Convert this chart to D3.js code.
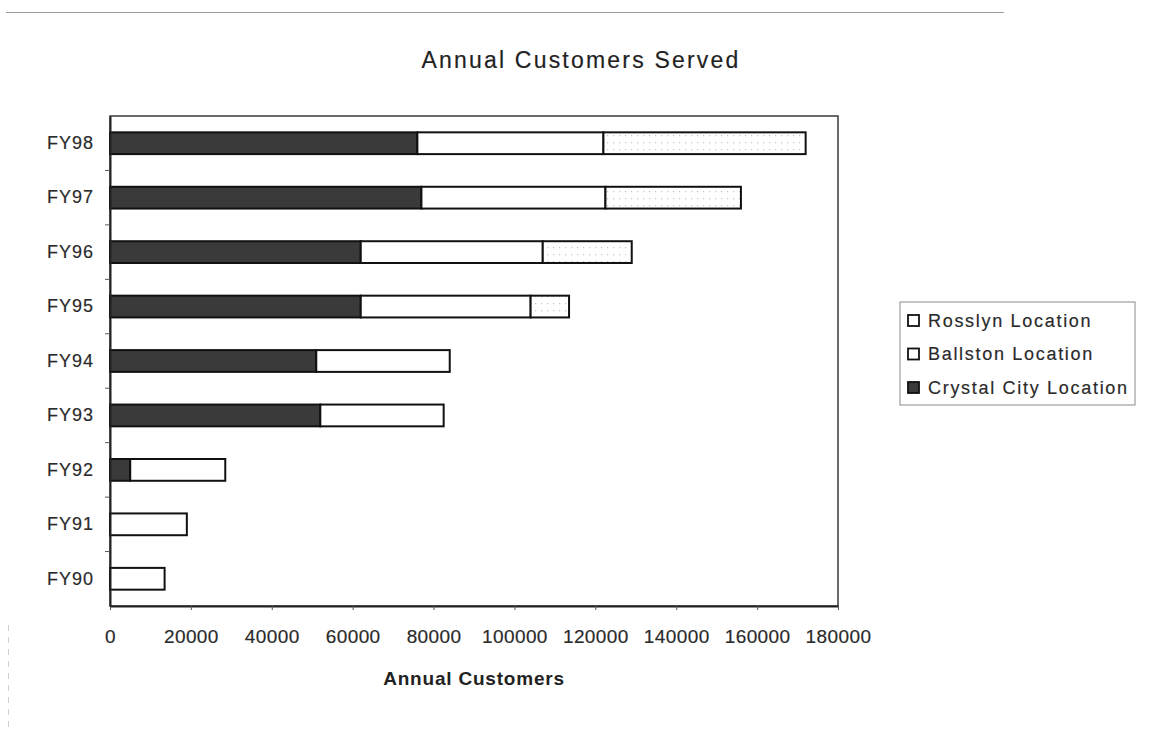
<!DOCTYPE html>
<html>
<head>
<meta charset="utf-8">
<script src="https://cdn.jsdelivr.net/npm/d3@7/dist/d3.min.js"></script>
<style>
  html, body { margin: 0; padding: 0; background: #ffffff; }
  svg { display: block; font-family: "Liberation Sans", Arial, sans-serif; }
  svg text { stroke: #2a2a2a; stroke-width: 0.18px; }
  svg text.bold { stroke: none; }
</style>
</head>
<body>
<svg id="chart" width="1149" height="729"></svg>
<script>
// Fiscal years, top to bottom
const years = ["FY98", "FY97", "FY96", "FY95", "FY94", "FY93", "FY92", "FY91", "FY90"];
// Customers per location and year
const crystalCity = [76000, 77000, 62000, 62000, 51000, 52000, 5000, 0, 0];
const ballston    = [46000, 45500, 45000, 42000, 33000, 30500, 23500, 19000, 13500];
const rosslyn     = [50000, 33500, 22000, 9500, 0, 0, 0, 0, 0];
const xTicks = [0, 20000, 40000, 60000, 80000, 100000, 120000, 140000, 160000, 180000];

const seriesNames = ["Crystal City Location", "Ballston Location", "Rosslyn Location"];
const legendOrder = ["Rosslyn Location", "Ballston Location", "Crystal City Location"];

const svg = d3.select("#chart");
const plotLeft = 110, plotRight = 838, plotTop = 116, plotBottom = 606;

// faint scan edge lines
svg.append("line").attr("x1", 6).attr("x2", 1004).attr("y1", 12.5).attr("y2", 12.5)
  .attr("stroke", "#9a9a9a").attr("stroke-width", 1.2);
svg.append("line").attr("x1", 8.5).attr("x2", 8.5).attr("y1", 625).attr("y2", 729)
  .attr("stroke", "#d0d0d0").attr("stroke-width", 1).attr("stroke-dasharray", "6,6");

// dotted texture for the Rosslyn segments
const defs = svg.append("defs");
const pat = defs.append("pattern").attr("id", "dots").attr("patternUnits", "userSpaceOnUse")
  .attr("width", 6).attr("height", 7);
pat.append("rect").attr("width", 6).attr("height", 7).attr("fill", "#ffffff");
pat.append("rect").attr("x", 1).attr("y", 2).attr("width", 1.2).attr("height", 1.2).attr("fill", "#c4c4c4");

const x = d3.scaleLinear().domain([0, 180000]).range([plotLeft, plotRight]);
const y = d3.scaleBand().domain(years).range([plotTop, plotBottom]).paddingInner(0.6).paddingOuter(0.3);

const table = years.map((yr, i) => ({
  year: yr,
  "Crystal City Location": crystalCity[i],
  "Ballston Location": ballston[i],
  "Rosslyn Location": rosslyn[i]
}));
const stacked = d3.stack().keys(seriesNames)(table);

const fills = {
  "Crystal City Location": "#3a3a3a",
  "Ballston Location": "#ffffff",
  "Rosslyn Location": "url(#dots)"
};

// plot frame
svg.append("rect").attr("x", plotLeft).attr("y", plotTop)
  .attr("width", plotRight - plotLeft).attr("height", plotBottom - plotTop)
  .attr("fill", "none").attr("stroke", "#3a3a3a").attr("stroke-width", 1.5);

// bars
stacked.forEach(layer => {
  svg.append("g").selectAll("rect").data(layer.filter(d => d[1] > d[0])).join("rect")
    .attr("x", d => x(d[0]))
    .attr("y", d => y(d.data.year))
    .attr("width", d => x(d[1]) - x(d[0]))
    .attr("height", y.bandwidth())
    .attr("fill", fills[layer.key])
    .attr("stroke", "#111")
    .attr("stroke-width", 2);
});

// x axis
const xAxis = d3.axisBottom(x).tickValues(xTicks).tickFormat(d3.format("d")).tickSize(4).tickSizeOuter(0).tickPadding(20);
const gx = svg.append("g").attr("transform", `translate(0,${plotBottom})`).call(xAxis);
gx.select(".domain").attr("stroke", "#222").attr("stroke-width", 2);
gx.selectAll(".tick line").attr("stroke", "#555");
gx.selectAll(".tick text").attr("font-size", 19).attr("fill", "#2a2a2a")
  .attr("font-family", "Liberation Sans, Arial, sans-serif").style("letter-spacing", "0.4px");

// y axis
const yAxis = d3.axisLeft(y).tickSize(0).tickPadding(16);
const gy = svg.append("g").attr("transform", `translate(${plotLeft},0)`).call(yAxis);
gy.select(".domain").attr("stroke", "#222").attr("stroke-width", 2);
gy.selectAll(".tick text").attr("font-size", 18).attr("fill", "#2a2a2a")
  .attr("font-family", "Liberation Sans, Arial, sans-serif").style("letter-spacing", "1px");
// separator ticks between categories
svg.append("g").selectAll("line").data(years.slice(1)).join("line")
  .attr("x1", plotLeft - 5).attr("x2", plotLeft)
  .attr("y1", d => y(d) - y.step() * y.paddingInner() / 2)
  .attr("y2", d => y(d) - y.step() * y.paddingInner() / 2)
  .attr("stroke", "#555").attr("stroke-width", 1);

// titles
svg.append("text").attr("x", 581).attr("y", 68).attr("text-anchor", "middle")
  .attr("font-size", 23).attr("fill", "#222").style("letter-spacing", "2.2px")
  .text("Annual Customers Served");
svg.append("text").attr("class", "bold").attr("x", 474).attr("y", 685).attr("text-anchor", "middle")
  .attr("font-size", 19).attr("font-weight", "bold").attr("fill", "#222").style("letter-spacing", "0.8px")
  .text("Annual Customers");

// legend
const lg = svg.append("g");
lg.append("rect").attr("x", 900).attr("y", 302).attr("width", 235).attr("height", 103)
  .attr("fill", "#fff").attr("stroke", "#8a8a8a").attr("stroke-width", 1);
legendOrder.forEach((name, i) => {
  const cy = 320 + i * 33.5;
  lg.append("rect").attr("x", 908).attr("y", cy - 5).attr("width", 11).attr("height", 11)
    .attr("fill", name === "Crystal City Location" ? "#3a3a3a" : "#fff")
    .attr("stroke", "#111").attr("stroke-width", 1.8);
  lg.append("text").attr("x", 928).attr("y", cy + 6.5).attr("font-size", 18).attr("fill", "#2a2a2a")
    .style("letter-spacing", "1.7px").text(name);
});
</script>
</body>
</html>
